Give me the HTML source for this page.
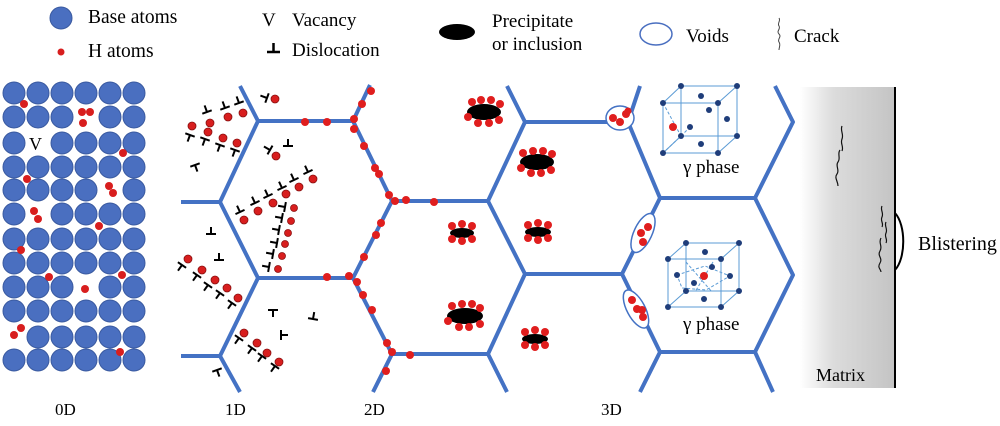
<!DOCTYPE html>
<html><head><meta charset="utf-8"><style>
html,body{margin:0;padding:0;background:#fff;}
svg{display:block;}
text{font-family:"Liberation Serif",serif;fill:#000;}
</style></head><body>
<svg width="1000" height="426" viewBox="0 0 1000 426" xmlns="http://www.w3.org/2000/svg">
<defs>
<linearGradient id="g" x1="0" x2="1" y1="0" y2="0">
<stop offset="0" stop-color="#ffffff"/><stop offset="0.35" stop-color="#dcdcdc"/><stop offset="1" stop-color="#c4c4c4"/>
</linearGradient>
<g id="d"><path d="M-5 0H5M0 0V-7" stroke="#000" stroke-width="2" fill="none"/></g>
<g id="t"><path d="M-5 0H5M0 0V7" stroke="#000" stroke-width="2" fill="none"/></g>
</defs>

<!-- Legend -->
<circle cx="61" cy="18" r="11" fill="#4a6fc0" stroke="#3a5aa0" stroke-width="1"/>
<text x="88" y="23" font-size="19.5">Base atoms</text>
<circle cx="61" cy="52" r="3.5" fill="#d81e1e"/>
<text x="88" y="57" font-size="19.5">H atoms</text>
<text x="262" y="26" font-size="19">V</text>
<text x="292" y="26" font-size="19">Vacancy</text>
<path d="M267 52H280M273.5 52V43" stroke="#000" stroke-width="2.5"/>
<text x="292" y="56" font-size="19">Dislocation</text>
<ellipse cx="457" cy="32" rx="18" ry="8" fill="#000"/>
<text x="492" y="27" font-size="19">Precipitate</text>
<text x="492" y="50" font-size="19">or inclusion</text>
<ellipse cx="656" cy="34" rx="16" ry="11" fill="none" stroke="#4a6fc0" stroke-width="1.5"/>
<text x="686" y="42" font-size="19">Voids</text>
<path d="M779 18c2 3-2 5 0 8s-3 5 0 8-2 5 0 8 0 5 0 8" stroke="#444" stroke-width="1" fill="none"/>
<text x="794" y="42" font-size="19">Crack</text>

<!-- 0D grid -->
<g fill="#4a6fc0" stroke="#3a5aa0" stroke-width="1">
<g transform="translate(0,93)"><circle cx="14" r="11"/><circle cx="38" r="11"/><circle cx="62" r="11"/><circle cx="86" r="11"/><circle cx="110" r="11"/><circle cx="134" r="11"/></g>
<g transform="translate(0,117)"><circle cx="14" r="11"/><circle cx="38" r="11"/><circle cx="62" r="11"/><circle cx="110" r="11"/><circle cx="134" r="11"/></g>
<g transform="translate(0,143)"><circle cx="14" r="11"/><circle cx="62" r="11"/><circle cx="86" r="11"/><circle cx="110" r="11"/><circle cx="134" r="11"/></g>
<g transform="translate(0,167)"><circle cx="14" r="11"/><circle cx="38" r="11"/><circle cx="62" r="11"/><circle cx="86" r="11"/><circle cx="110" r="11"/><circle cx="134" r="11"/></g>
<g transform="translate(0,190)"><circle cx="14" r="11"/><circle cx="38" r="11"/><circle cx="62" r="11"/><circle cx="86" r="11"/><circle cx="134" r="11"/></g>
<g transform="translate(0,214)"><circle cx="14" r="11"/><circle cx="62" r="11"/><circle cx="86" r="11"/><circle cx="110" r="11"/><circle cx="134" r="11"/></g>
<g transform="translate(0,239)"><circle cx="14" r="11"/><circle cx="38" r="11"/><circle cx="62" r="11"/><circle cx="86" r="11"/><circle cx="110" r="11"/><circle cx="134" r="11"/></g>
<g transform="translate(0,263)"><circle cx="14" r="11"/><circle cx="38" r="11"/><circle cx="62" r="11"/><circle cx="86" r="11"/><circle cx="110" r="11"/><circle cx="134" r="11"/></g>
<g transform="translate(0,287)"><circle cx="14" r="11"/><circle cx="38" r="11"/><circle cx="62" r="11"/><circle cx="110" r="11"/><circle cx="134" r="11"/></g>
<g transform="translate(0,311)"><circle cx="14" r="11"/><circle cx="38" r="11"/><circle cx="62" r="11"/><circle cx="86" r="11"/><circle cx="110" r="11"/><circle cx="134" r="11"/></g>
<g transform="translate(0,337)"><circle cx="38" r="11"/><circle cx="62" r="11"/><circle cx="86" r="11"/><circle cx="110" r="11"/><circle cx="134" r="11"/></g>
<g transform="translate(0,360)"><circle cx="14" r="11"/><circle cx="38" r="11"/><circle cx="62" r="11"/><circle cx="86" r="11"/><circle cx="110" r="11"/><circle cx="134" r="11"/></g>
</g>
<text x="29" y="150" font-size="18">V</text>
<g fill="#d81e1e">
<circle cx="24" cy="104" r="4"/><circle cx="82" cy="112" r="4"/><circle cx="90" cy="112" r="4"/><circle cx="83" cy="123" r="4"/>
<circle cx="123" cy="153" r="4"/><circle cx="27" cy="179" r="4"/><circle cx="109" cy="186" r="4"/><circle cx="113" cy="193" r="4"/>
<circle cx="34" cy="211" r="4"/><circle cx="38" cy="219" r="4"/><circle cx="99" cy="226" r="4"/><circle cx="21" cy="250" r="4"/>
<circle cx="49" cy="277" r="4"/><circle cx="122" cy="275" r="4"/><circle cx="85" cy="289" r="4"/><circle cx="21" cy="328" r="4"/>
<circle cx="14" cy="335" r="4"/><circle cx="120" cy="352" r="4"/>
</g>

<!-- Grain boundaries -->
<g stroke="#4472c4" stroke-width="4" fill="none" stroke-linejoin="round">
<path d="M240 86L258 121L220 202L258 278L220 356L240 392"/>
<path d="M181 202H220M181 356H220"/>
<path d="M258 121H353L392 201L353 278H258M370 85L353 121M392 201H488L525 122L507 86M353 278L392 354H488L525 274L488 201M392 354L373 392M488 354L507 392"/>
<path d="M525 122H628L660 198H755L793 122L775 86M628 122L640 86M755 198L793 275L755 352H660L622 274L660 198M622 274H525M660 352L640 392M755 352L773 392"/>
</g>

<!-- 1D dislocations -->
<g>
<use href="#d" transform="translate(207,112) rotate(-20)"/><use href="#d" transform="translate(225,108) rotate(-20)"/><use href="#d" transform="translate(239,103) rotate(-20)"/>
<use href="#t" transform="translate(190,135) rotate(20)"/><use href="#t" transform="translate(205,139) rotate(20)"/><use href="#t" transform="translate(220,145) rotate(20)"/><use href="#t" transform="translate(235,150) rotate(20)"/>
<use href="#d" transform="translate(195,165) rotate(160)"/>
<use href="#d" transform="translate(267,98) rotate(-70)"/>
<use href="#d" transform="translate(270,150) rotate(-60)"/><use href="#d" transform="translate(288,146)"/>
<use href="#d" transform="translate(240,212) rotate(-25)"/><use href="#d" transform="translate(255,203) rotate(-25)"/><use href="#d" transform="translate(268,196) rotate(-25)"/><use href="#d" transform="translate(282,188) rotate(-25)"/><use href="#d" transform="translate(294,180) rotate(-25)"/><use href="#d" transform="translate(308,172) rotate(-25)"/>
<use href="#d" transform="translate(285,207) rotate(-80)"/><use href="#d" transform="translate(282,218) rotate(-80)"/><use href="#d" transform="translate(279,230) rotate(-80)"/><use href="#d" transform="translate(277,243) rotate(-80)"/><use href="#d" transform="translate(273,254) rotate(-80)"/><use href="#d" transform="translate(269,267) rotate(-80)"/>
<use href="#d" transform="translate(211,234)"/><use href="#d" transform="translate(219,260)"/>
<use href="#t" transform="translate(182,265) rotate(35)"/><use href="#t" transform="translate(197,275) rotate(35)"/><use href="#t" transform="translate(208,285) rotate(35)"/><use href="#t" transform="translate(220,293) rotate(35)"/><use href="#t" transform="translate(232,303) rotate(35)"/>
<use href="#d" transform="translate(273,310) rotate(180)"/><use href="#d" transform="translate(313,319) rotate(10)"/><use href="#d" transform="translate(281,335) rotate(90)"/><use href="#d" transform="translate(217,370) rotate(160)"/>
<use href="#t" transform="translate(239,338) rotate(35)"/><use href="#t" transform="translate(252,348) rotate(35)"/><use href="#t" transform="translate(262,356) rotate(35)"/><use href="#t" transform="translate(275,366) rotate(35)"/>
</g>
<g fill="#d81e1e" stroke="#8a1010" stroke-width="0.8">
<circle cx="210" cy="123" r="4"/><circle cx="228" cy="117" r="4"/><circle cx="243" cy="113" r="4"/>
<circle cx="192" cy="126" r="4"/><circle cx="208" cy="132" r="4"/><circle cx="223" cy="138" r="4"/><circle cx="237" cy="143" r="4"/>
<circle cx="275" cy="99" r="4"/><circle cx="276" cy="156" r="4"/>
<circle cx="244" cy="220" r="4"/><circle cx="258" cy="211" r="4"/><circle cx="273" cy="203" r="4"/><circle cx="286" cy="194" r="4"/><circle cx="299" cy="187" r="4"/><circle cx="313" cy="179" r="4"/>
<circle cx="294" cy="208" r="3.5"/><circle cx="291" cy="221" r="3.5"/><circle cx="288" cy="233" r="3.5"/><circle cx="285" cy="244" r="3.5"/><circle cx="282" cy="256" r="3.5"/><circle cx="278" cy="269" r="3.5"/>
<circle cx="188" cy="259" r="4"/><circle cx="202" cy="270" r="4"/><circle cx="215" cy="280" r="4"/><circle cx="227" cy="288" r="4"/><circle cx="238" cy="298" r="4"/>
<circle cx="244" cy="333" r="4"/><circle cx="257" cy="343" r="4"/><circle cx="267" cy="353" r="4"/><circle cx="279" cy="362" r="4"/>
</g>

<!-- 2D H on boundaries -->
<g fill="#e01e1e">
<circle cx="305" cy="122" r="4"/><circle cx="327" cy="122" r="4"/><circle cx="354" cy="119" r="4"/><circle cx="354" cy="129" r="4"/>
<circle cx="371" cy="91" r="4"/><circle cx="362" cy="104" r="4"/><circle cx="364" cy="146" r="4"/><circle cx="375" cy="168" r="4"/>
<circle cx="379" cy="174" r="4"/><circle cx="389" cy="195" r="4"/><circle cx="395" cy="201" r="4"/><circle cx="406" cy="200" r="4"/>
<circle cx="434" cy="202" r="4"/><circle cx="381" cy="223" r="4"/><circle cx="376" cy="235" r="4"/><circle cx="364" cy="257" r="4"/>
<circle cx="349" cy="276" r="4"/><circle cx="327" cy="277" r="4"/><circle cx="357" cy="282" r="4"/><circle cx="363" cy="295" r="4"/>
<circle cx="372" cy="310" r="4"/><circle cx="387" cy="343" r="4"/><circle cx="392" cy="352" r="4"/><circle cx="410" cy="355" r="4"/>
<circle cx="386" cy="371" r="4"/>
</g>

<!-- Precipitates -->
<g>
<g transform="translate(484,112)"><ellipse rx="17" ry="8" fill="#000"/><g fill="#e01e1e"><circle cx="-12" cy="-10" r="4"/><circle cx="-3" cy="-12" r="4"/><circle cx="7" cy="-12" r="4"/><circle cx="16" cy="-8" r="4"/><circle cx="-16" cy="5" r="4"/><circle cx="-6" cy="11" r="4"/><circle cx="5" cy="11" r="4"/><circle cx="15" cy="8" r="4"/></g></g>
<g transform="translate(537,162)"><ellipse rx="17" ry="8" fill="#000"/><g fill="#e01e1e"><circle cx="-14" cy="-9" r="4"/><circle cx="-4" cy="-11" r="4"/><circle cx="6" cy="-11" r="4"/><circle cx="15" cy="-8" r="4"/><circle cx="-16" cy="6" r="4"/><circle cx="-6" cy="11" r="4"/><circle cx="4" cy="11" r="4"/><circle cx="14" cy="8" r="4"/></g></g>
<g transform="translate(462,233)"><ellipse rx="12" ry="5" fill="#000"/><g fill="#e01e1e"><circle cx="-10" cy="-7" r="4"/><circle cx="0" cy="-9" r="4"/><circle cx="10" cy="-7" r="4"/><circle cx="-10" cy="6" r="4"/><circle cx="0" cy="8" r="4"/><circle cx="10" cy="6" r="4"/></g></g>
<g transform="translate(538,232)"><ellipse rx="13" ry="5" fill="#000"/><g fill="#e01e1e"><circle cx="-10" cy="-7" r="4"/><circle cx="0" cy="-9" r="4"/><circle cx="10" cy="-7" r="4"/><circle cx="-10" cy="6" r="4"/><circle cx="0" cy="8" r="4"/><circle cx="10" cy="6" r="4"/></g></g>
<g transform="translate(465,316)"><ellipse rx="18" ry="8" fill="#000"/><g fill="#e01e1e"><circle cx="-13" cy="-10" r="4"/><circle cx="-3" cy="-12" r="4"/><circle cx="7" cy="-12" r="4"/><circle cx="15" cy="-8" r="4"/><circle cx="-17" cy="5" r="4"/><circle cx="-6" cy="11" r="4"/><circle cx="4" cy="11" r="4"/><circle cx="15" cy="8" r="4"/></g></g>
<g transform="translate(535,339)"><ellipse rx="13" ry="5" fill="#000"/><g fill="#e01e1e"><circle cx="-10" cy="-7" r="4"/><circle cx="0" cy="-9" r="4"/><circle cx="10" cy="-7" r="4"/><circle cx="-10" cy="6" r="4"/><circle cx="0" cy="8" r="4"/><circle cx="10" cy="6" r="4"/></g></g>
</g>

<!-- Voids -->
<ellipse cx="620" cy="118" rx="14" ry="12" fill="#fff" stroke="#4472c4" stroke-width="1.5"/>
<g fill="#e01e1e"><circle cx="613" cy="118" r="4"/><circle cx="620" cy="122" r="4"/><circle cx="626" cy="114" r="4"/><circle cx="628" cy="111" r="3.5"/></g>
<ellipse cx="643" cy="233" rx="21" ry="9" transform="rotate(-65 643 233)" fill="#fff" stroke="#4472c4" stroke-width="1.5"/>
<g fill="#e01e1e"><circle cx="648" cy="227" r="4"/><circle cx="641" cy="233" r="4"/><circle cx="643" cy="242" r="4"/></g>
<ellipse cx="636" cy="309" rx="21" ry="9" transform="rotate(62 636 309)" fill="#fff" stroke="#4472c4" stroke-width="1.5"/>
<g fill="#e01e1e"><circle cx="632" cy="300" r="4"/><circle cx="637" cy="309" r="4"/><circle cx="642" cy="310" r="4"/><circle cx="643" cy="317" r="4"/></g>

<!-- Unit cells -->
<g stroke="#5b9bd5" stroke-width="1" fill="none">
<rect x="663" y="103" width="55" height="50"/>
<rect x="681" y="86" width="56" height="50"/>
<path d="M663 103L681 86M718 103L737 86M718 153L737 136M663 153L681 136"/>
<path d="M663 103L681 136L663 153M681 136L690 127" stroke-dasharray="3 2"/>
<rect x="668" y="259" width="53" height="48"/>
<rect x="686" y="243" width="53" height="48"/>
<path d="M668 259L686 243M721 259L739 243M721 307L739 291M668 307L686 291"/>
<path d="M677 275L705 266L730 276L706 290L682 288Z M686 262L712 292M713 262L695 292" stroke-dasharray="3 2"/>
</g>
<g fill="#1f3d7a">
<circle cx="663" cy="103" r="3"/><circle cx="718" cy="103" r="3"/><circle cx="663" cy="153" r="3"/><circle cx="718" cy="153" r="3"/>
<circle cx="681" cy="86" r="3"/><circle cx="737" cy="86" r="3"/><circle cx="737" cy="136" r="3"/><circle cx="681" cy="136" r="3"/>
<circle cx="701" cy="96" r="3"/><circle cx="709" cy="110" r="3"/><circle cx="727" cy="119" r="3"/><circle cx="690" cy="127" r="3"/><circle cx="701" cy="144" r="3"/>
<circle cx="668" cy="259" r="3"/><circle cx="721" cy="259" r="3"/><circle cx="668" cy="307" r="3"/><circle cx="721" cy="307" r="3"/>
<circle cx="686" cy="243" r="3"/><circle cx="739" cy="243" r="3"/><circle cx="739" cy="291" r="3"/><circle cx="686" cy="291" r="3"/>
<circle cx="705" cy="252" r="3"/><circle cx="677" cy="275" r="3"/><circle cx="730" cy="276" r="3"/><circle cx="712" cy="267" r="3"/><circle cx="694" cy="283" r="3"/><circle cx="704" cy="299" r="3"/>
</g>
<circle cx="673" cy="127" r="4" fill="#e01e1e"/>
<circle cx="704" cy="276" r="4" fill="#e01e1e"/>
<text x="683" y="173" font-size="19">γ phase</text>
<text x="683" y="330" font-size="19">γ phase</text>

<!-- Matrix -->
<rect x="800" y="87" width="95" height="301" fill="url(#g)"/>
<line x1="895" y1="87" x2="895" y2="388" stroke="#000" stroke-width="2"/>
<path d="M895 213C906 225 906 258 895 270" stroke="#000" stroke-width="2" fill="none"/>
<g stroke="#111" stroke-width="1.2" fill="none">
<path d="M842 126c-2 5 2 8 0 13s2 7 0 12"/>
<path d="M840 150c-3 4 1 8-2 12s2 8-1 12 1 7 1 12"/>
<path d="M882 206c-2 4 2 7 0 11s2 6 0 10"/>
<path d="M886 222c-2 4 2 7 0 11s2 6 0 10"/>
<path d="M881 238c-3 5 2 8-1 13s3 7 0 12 1 6 1 9"/>
</g>
<text x="816" y="381" font-size="18">Matrix</text>
<text x="918" y="250" font-size="20">Blistering</text>

<!-- Bottom labels -->
<text x="55" y="415" font-size="17">0D</text>
<text x="225" y="415" font-size="17">1D</text>
<text x="364" y="415" font-size="17">2D</text>
<text x="601" y="415" font-size="17">3D</text>
</svg>
</body></html>
